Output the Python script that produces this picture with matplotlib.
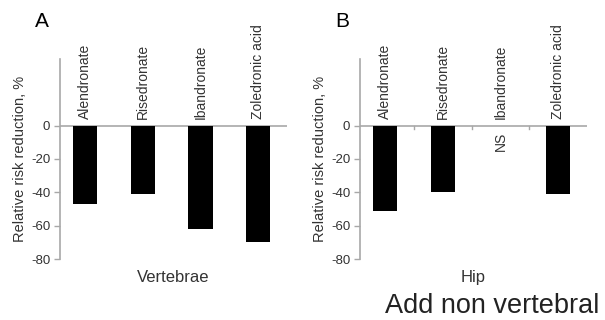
import numpy as np
import matplotlib
matplotlib.use("Agg")
import matplotlib.pyplot as plt

plt.rcParams['font.family'] = ['Liberation Sans', 'DejaVu Sans']

drugs = ["Alendronate", "Risedronate", "Ibandronate", "Zoledronic acid"]
vertebrae = [-47, -41, -62, -70]
hip = [-51, -40, None, -41]   # ibandronate not significant
y_ticks = [0, -20, -40, -60, -80]

text_col = "#333333"
axis_col = "#a8a8a8"

fig = plt.figure(figsize=(6.05, 3.2), dpi=100)
axA = fig.add_axes([0.0992, 0.1906, 0.375, 0.6254])
axB = fig.add_axes([0.595, 0.1906, 0.375, 0.6254])


def draw(ax, values, xlabel, letter):
    x = np.arange(1, len(drugs) + 1)
    for xi, v, name in zip(x, values, drugs):
        if v is not None:
            ax.bar(xi, v, width=0.42, color="black")
        else:
            ax.text(xi, -3.5, "NS", rotation=90, ha="center", va="top",
                    fontsize=10, color=text_col)
        ax.text(xi, 4, name, rotation=90, ha="center", va="bottom",
                fontsize=10, color=text_col)
    ax.set_xlim(0.56, 4.5)
    ax.set_ylim(-80, 40)
    ax.axhline(0, color=axis_col, lw=1.2, zorder=0)
    for s in ["top", "right", "bottom"]:
        ax.spines[s].set_visible(False)
    ax.spines["left"].set_color(axis_col)
    ax.spines["left"].set_linewidth(1.2)
    ax.set_xticks([])
    ax.set_yticks(y_ticks)
    ax.set_yticklabels([str(t) for t in y_ticks])
    ax.tick_params(axis="y", colors=axis_col, labelcolor=text_col,
                   labelsize=9.5, length=4, width=1, pad=3)
    ax.set_ylabel("Relative risk reduction, %", fontsize=10.5, color=text_col,
                  labelpad=3)
    ax.text(0.5, -0.09, xlabel, transform=ax.transAxes, ha="center",
            va="center", fontsize=12, color=text_col)
    ax.text(-0.08, 1.185, letter, transform=ax.transAxes, ha="center",
            va="center", fontsize=15, color="black")


draw(axA, vertebrae, "Vertebrae", "A")
draw(axB, hip, "Hip", "B")

# small ticks on the zero line between the hip bars
for xm in [1.5, 2.5, 3.5]:
    axB.plot([xm, xm], [-0.5, -2.2], color=axis_col, lw=1)

fig.text(0.636, 0.044, "Add non vertebral", fontsize=19.5, color="#222222",
         ha="left", va="center")

fig.savefig("out.png", dpi=100)
